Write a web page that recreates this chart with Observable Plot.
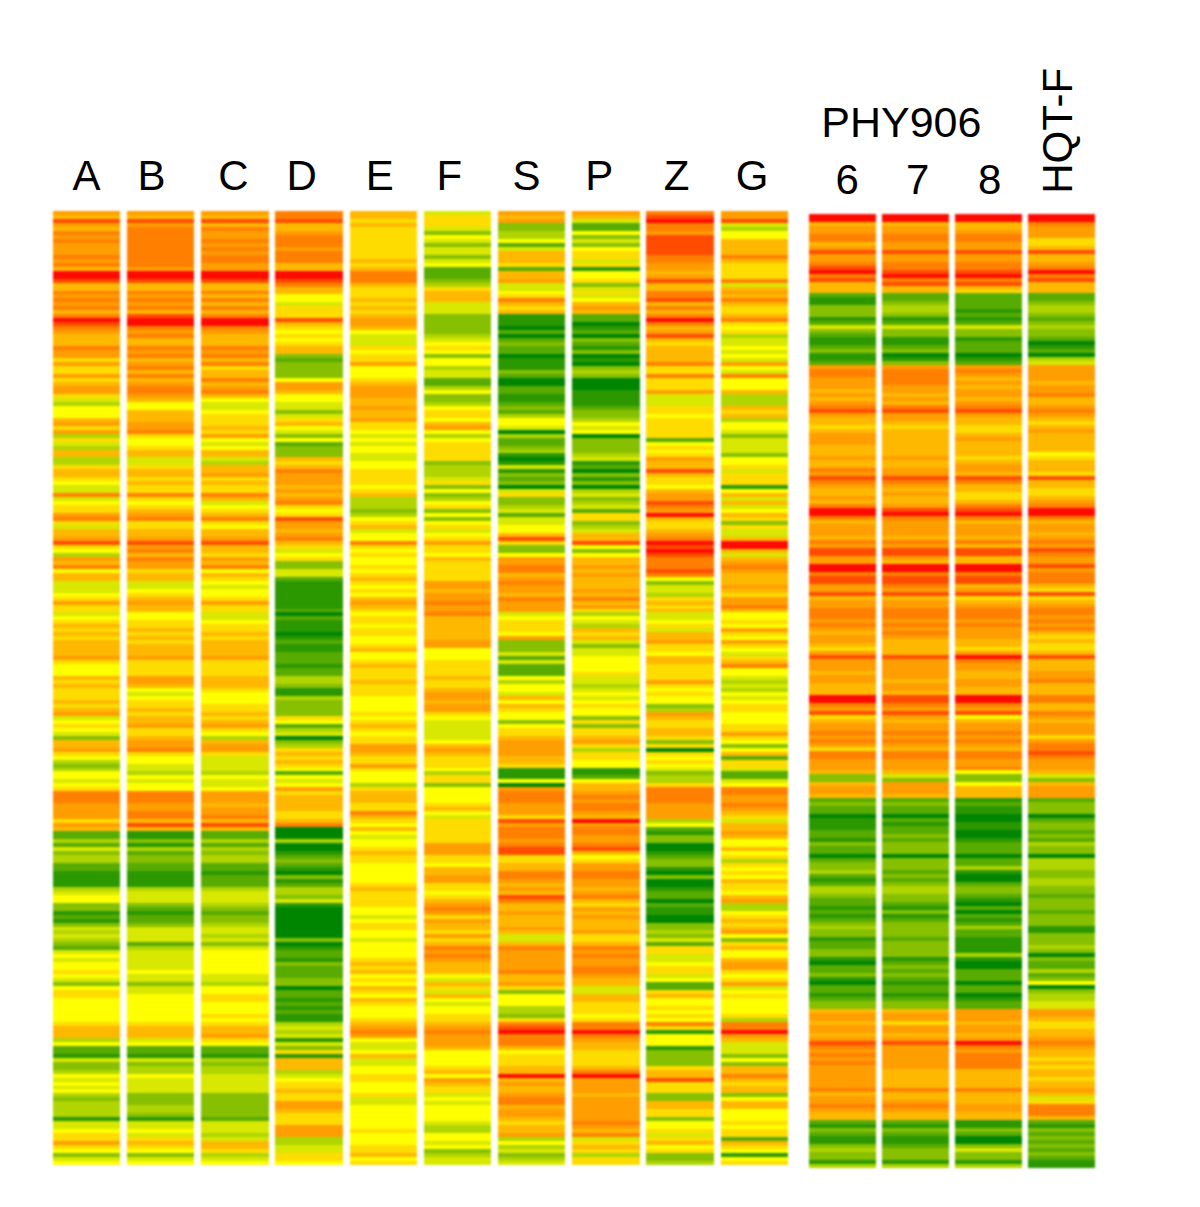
<!DOCTYPE html>
<html><head><meta charset="utf-8">
<script src="https://cdn.jsdelivr.net/npm/d3@7"></script>
<script src="https://cdn.jsdelivr.net/npm/@observablehq/plot@0.6"></script>
<style>html,body{margin:0;padding:0;background:#fff}svg{display:block}g[aria-label="rect"]{filter:blur(0.9px)}</style>
</head><body><div id="chart"></div>
<script>
// Expression levels per row, one character per row, 0 = deepest green, 6 = neutral yellow, c = deepest red.
const colA=["98b98a9a99","9a9a8ccb88","a9a9a8acba","9888a99797","7978997546","6689794754","8844788765","5a56779a75","889b76498a","6885556797","7567878788","8897666878","7778789567","6538897643","466567aaa9","9997982242","5344221111","4566331213","5454325656","6765367766","6666788846","2215334656","5643444415","5677976356"];
const colB=["98b9aaaaaa","aaaa9ccb88","a9a9a8bcca","9a88a9a89a","8a89aa9866","88899a7667","8855788787","7a76789a77","889b9a8a99","7885567898","8667787878","8897777998","6567787889","77899a7665","546566aaa9","9aa8b81131","4233221111","4555321223","5555245555","5655355666","6666788856","2215344655","5533344315","5657876356"];
const colC=["98b8a99a9a","9aa99ccb88","a8a8a8acca","9888a9a8a7","88a89a8655","6777879656","8854889787","7a85678a76","889b88798a","6876566797","7556778788","8897777888","7666778789","7648997555","5465569998","99a8b82242","4344221222","4555432334","5545356666","6655466776","6676788976","2214344555","5533333325","5545887456"];
const colD=["aab889aaa9","aaa88ccba8","8665777b87","6767883233","3369986655","3578653623","33878a9998","989a767b99","89a8756733","5521111111","2021110121","1222122443","1143333762","4503478787","6265697888","8778a00040","0123210312","4435100000","0003012213","2223302212","1211454515","3718884567","7877998777","9994455776"];
const colE=["8878777777","77878aaa87","7787878998","6555767796","6678999889","8897765656","6556677776","7844434678","566a767667","6787676898","7677677667","8667877787","7766667678","7677998779","7666478887","7a87686566","7877666667","8777766567","7665666678","7867687687","666789a965","5685566776","6675566666","6766677867"];
const colF=["5777536535","5356222347","8885553333","3456763664","5522463346","7768964677","7773444573","6346736367","5679776877","77799899a9","9a88888899","6667777877","8998997655","5556898777","6477366667","8657777779","9977688997","76789a9798","87978a9a98","8865875865","667789a999","8666678698","7756566665","4466563455"];
const colS=["9893344625","8887288955","67a8781110","2023220111","3200221123","2466504223","4101513230","5733452556","68b733699a","a89a998a99","9567776933","3525222646","6586876636","7789999887","111609aaa9","997b9aaa9a","bb7788aa98","98ba889888","98558a9999","9a88973666","4437abcaaa","8677788c89","889aa89987","8894645345"];
const colP=["9852263536","7757166735","7568982201","2032130103","4300011112","3346560333","3451203130","4534527734","588b636889","8988898a89","7465487853","5566667554","5656766373","7789747766","1126889a9a","a98c9aa99a","b86799aa99","89a8798988","89778a9a99","aa98855887","7767aaca98","877778ac99","998999999a","98a5787477"];
const colZ=["abcaa9bbbb","baa9989b88","aab8a8aca8","9b878888a7","7a77795557","7677777267","67988b8776","899ba9c877","89acbcbaaa","ba63554787","8556758897","7688777797","6766349877","8873707676","53447aaaa9","9994621330","0123310300","1220211003","3435277556","7756227866","7676a71666","13333788b7","7733887736","6757867334"];
const colG=["99b5466888","8a87777a58","98a8778a76","7455656596","5a66684448","7846653555","5366757771","6858568737","558cc8589a","988898799a","8667697697","6578a66545","4656776667","7976368277","52256aa99a","9875889866","8674767687","7689446787","8963786689","9767956766","6674aac985","5536388a87","8836886667","6772876167"];
const col6=["cc899aa89b","99abcab888","2113331253","211231129a","a9998989ab","9887899988","8988a9ba98","898acca899","98a9bb99cc","abb99b899a","aa9a989987","9b99989988","8cca9b7899","a9a97aa999","8338998232","2011122132","2023342124","4322121234","3312233102","2310221233","89989989ba","9a9a999999","a899a98821","3211343314"];
const col7=["cc899aa99b","99aabcab88","2234431253","311230139a","aaa99898ab","9987888888","898899ba98","9889bca999","98a9bb98cc","abba9b899a","aa9a9a9888","8b99999899","8bba9b9899","a9a98aa999","8539998232","2021223233","3033323234","4332131233","3323333123","2321221233","89979989b9","9999988888","a889a98821","3211233314"];
const col8=["cc889aa99b","99aabcab87","2222121253","312220129a","98989989ab","9887789888","878998ba88","778abca899","98a8bb88cc","abb89b789a","aa9a999887","9ca9988998","8cca9b6899","a9a98aa99a","6336888121","1001100122","2022410023","3210202124","2211114100","2220220122","99989989ca","9aaaa88888","a888998811","3200353314"];
const colH=["cca999778b","889acab888","2234432343","3201204599","99899a889a","9878988888","678887b887","789acca899","89a9ba99b9","aaa87b789a","a9a9a87877","8b88899a88","8aa88a9899","979aaba999","8538999233","3023323243","3044433443","3233323331","1333430322","4236034455","99877889a9","8878788788","9857aaa821","3232323211"];

const leftColumns=[colA,colB,colC,colD,colE,colF,colS,colP,colZ,colG];
const rightColumns=[col6,col7,col8,colH];
const labels=["A","B","C","D","E","F","S","P","Z","G","6","7","8"];
const labelSlots=[.45,1.325,2.43,3.35,4.40,5.34,6.38,7.36,8.40,9.42,10.70,11.65,12.62];
const levelDomain=[-6,-5,-4,-3,-2,-1,0,1,2,3,4,5,6];
const levelColors=["#008500","#2b9800","#58ab00","#86c000","#b0d500","#d8e800","#ffff00","#ffdc00","#ffb800","#ff9e00","#ff8000","#ff4c00","#ff0a00"];

const cells=[];
function addColumn(groups,slot,rowShift){
  [...groups.join("")].forEach((ch,i)=>cells.push({slot,row:i+rowShift,value:parseInt(ch,16)-6}));
}
leftColumns.forEach((c,i)=>addColumn(c,i,0));
rightColumns.forEach((c,j)=>addColumn(c,10.19+0.983*j,0.75));

const labelRows=labels.map((l,i)=>({text:l,slot:labelSlots[i],row:i<10?-8.8:-7.8}));

const chart=Plot.plot({
  width:1200,height:1207,margin:0,
  x:{type:"linear",domain:[0,1],range:[52.7,126.9],axis:null},
  y:{type:"linear",domain:[0,240],range:[211,1165],axis:null},
  color:{type:"linear",domain:levelDomain,range:levelColors},
  style:{background:"#fff"},
  marks:[
    Plot.rect(cells,{x1:"slot",x2:d=>d.slot+0.91,y1:"row",y2:d=>d.row+1,fill:"value",shapeRendering:"crispEdges"}),
    Plot.text(labelRows,{x:"slot",y:"row",text:"text",fontSize:42,fontFamily:"Liberation Sans",fill:"#000"}),
    Plot.text(["PHY906"],{x:[11.43],y:[-22.1],text:d=>d,fontSize:43,fontFamily:"Liberation Sans",fill:"#000"}),
    Plot.text(["HQT-F"],{x:[13.55],y:[-20.3],text:d=>d,rotate:-90,fontSize:42,fontFamily:"Liberation Sans",fill:"#000"})
  ]
});
document.getElementById("chart").append(chart);
</script></body></html>
